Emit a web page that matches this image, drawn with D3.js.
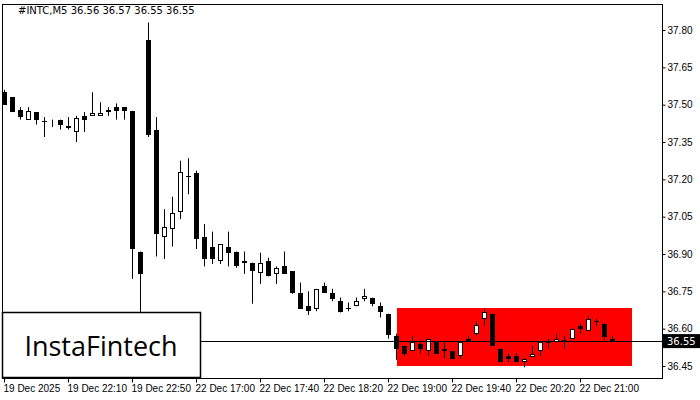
<!DOCTYPE html><html><head><meta charset="utf-8"><script src="https://cdn.jsdelivr.net/npm/d3@7"></script>
<style>body{margin:0;background:#fff}svg{font-family:Tahoma,"DejaVu Sans",sans-serif}</style></head><body><svg width="700" height="400"></svg>
<script>
const opens=[37.55,37.53,37.48,37.44,37.47,37.435,37.43,37.44,37.415,37.39,37.455,37.455,37.455,37.47,37.49,37.49,37.475,36.91,37.76,37.40,36.97,37.00,37.07,37.215,37.225,36.97,36.93,36.87,36.93,36.91,36.865,36.865,36.825,36.87,36.82,36.85,36.83,36.745,36.69,36.68,36.77,36.745,36.71,36.685,36.69,36.72,36.725,36.69,36.66,36.57,36.53,36.51,36.54,36.51,36.545,36.51,36.51,36.49,36.55,36.58,36.64,36.66,36.52,36.49,36.49,36.465,36.485,36.51,36.545,36.545,36.555,36.56,36.61,36.59,36.63,36.62,36.56];
const highs=[37.56,37.53,37.49,37.49,37.47,37.45,37.44,37.44,37.45,37.455,37.47,37.55,37.51,37.49,37.505,37.49,37.475,36.91,37.83,37.45,37.08,37.13,37.275,37.285,37.235,37.02,36.99,36.94,36.99,36.91,36.91,36.865,36.905,36.885,36.85,36.91,36.83,36.785,36.75,36.76,36.785,36.76,36.725,36.705,36.725,36.76,36.725,36.705,36.66,36.58,36.53,36.57,36.545,36.56,36.55,36.545,36.51,36.55,36.57,36.63,36.68,36.66,36.52,36.50,36.50,36.48,36.53,36.55,36.56,36.58,36.57,36.60,36.62,36.65,36.64,36.62,36.57];
const lows=[37.50,37.47,37.44,37.44,37.42,37.37,37.41,37.40,37.40,37.35,37.39,37.455,37.455,37.455,37.44,37.44,36.80,36.64,37.37,36.89,36.88,36.93,37.04,37.14,36.92,36.85,36.86,36.86,36.85,36.845,36.82,36.70,36.78,36.81,36.78,36.82,36.74,36.68,36.655,36.67,36.745,36.71,36.665,36.67,36.69,36.71,36.69,36.645,36.56,36.475,36.49,36.51,36.50,36.49,36.50,36.48,36.48,36.48,36.55,36.575,36.61,36.53,36.465,36.465,36.465,36.445,36.485,36.49,36.52,36.545,36.52,36.56,36.58,36.59,36.61,36.555,36.55];
const closes=[37.50,37.47,37.45,37.475,37.44,37.435,37.435,37.42,37.405,37.445,37.44,37.465,37.465,37.48,37.475,37.475,36.92,36.82,37.38,36.98,37.01,37.065,37.23,37.215,36.96,36.88,36.88,36.94,36.905,36.85,36.87,36.83,36.865,36.81,36.845,36.82,36.745,36.68,36.67,36.76,36.745,36.72,36.665,36.685,36.71,36.73,36.70,36.665,36.575,36.52,36.50,36.545,36.52,36.56,36.50,36.52,36.48,36.545,36.56,36.615,36.665,36.53,36.465,36.48,36.465,36.48,36.50,36.545,36.545,36.56,36.555,36.60,36.60,36.64,36.63,36.565,36.55];
const yTicks=[37.80,37.65,37.50,37.35,37.20,37.05,36.90,36.75,36.60,36.45];
const xTickIdx=[0,8,16,24,32,40,48,56,64,72];
const xTickLabels=["19 Dec 2025","19 Dec 22:10","19 Dec 22:50","22 Dec 17:00","22 Dec 17:40","22 Dec 18:20","22 Dec 19:00","22 Dec 19:40","22 Dec 20:20","22 Dec 21:00"];
const zone={from:49,to:78.5,top:36.683,bottom:36.45};
const last=36.55;

const svg=d3.select("svg");
const L=2,R=662,T=4,B=378;
const x=d3.scaleLinear().domain([0,1]).range([4,12]);
const y=d3.scaleLinear().domain([36.45,37.80]).range([366,30]);
svg.append("rect").attr("x",x(zone.from)+1).attr("width",x(zone.to)-x(zone.from)-1).attr("y",y(zone.top)).attr("height",y(zone.bottom)-y(zone.top)).attr("fill","#ff0000");
const g=svg.append("g").attr("clip-path","url(#c)");
svg.append("clipPath").attr("id","c").append("rect").attr("x",L).attr("y",T).attr("width",R-L).attr("height",B-T);
opens.forEach((o,i)=>{
  const c=closes[i],cx=Math.round(x(i))+0.5;
  g.append("line").attr("x1",cx).attr("x2",cx).attr("y1",y(highs[i])).attr("y2",y(lows[i])).attr("stroke","#000");
  const t=Math.round(y(Math.max(o,c))),b=Math.round(y(Math.min(o,c)));
  if(b-t<1){g.append("line").attr("x1",cx-2.5).attr("x2",cx+2.5).attr("y1",t+0.5).attr("y2",t+0.5).attr("stroke","#000");}
  else if(c<o) g.append("rect").attr("x",cx-2.5).attr("y",t).attr("width",5).attr("height",b-t).attr("fill","#000");
  else g.append("rect").attr("x",cx-2).attr("y",t+0.5).attr("width",4).attr("height",b-t-1).attr("fill","#fff").attr("stroke","#000");
});
svg.append("line").attr("x1",L).attr("x2",R).attr("y1",Math.round(y(last))+0.5).attr("y2",Math.round(y(last))+0.5).attr("stroke","#000");
svg.append("rect").attr("x",L+0.5).attr("y",T+0.5).attr("width",R-L).attr("height",B-T).attr("fill","none").attr("stroke","#000");
const ya=svg.append("g").attr("transform",`translate(${R+0.5},0)`).call(d3.axisRight(y).tickValues(yTicks).tickFormat(d3.format(".2f")).tickSize(3));
ya.select(".domain").remove();ya.selectAll("text").attr("font-size",10).attr("fill","#000").attr("x",5);
const xa=svg.append("g").attr("transform",`translate(0,${B+0.5})`).call(d3.axisBottom(x).tickValues(xTickIdx).tickFormat((d,i)=>xTickLabels[i]).tickSize(4));
xa.select(".domain").remove();xa.selectAll("text").attr("font-size",10).attr("fill","#000").attr("text-anchor","start").attr("x",-1).attr("y",6);
svg.append("rect").attr("x",R+1).attr("y",y(last)-7).attr("width",38).attr("height",14).attr("fill","#000");
svg.append("text").attr("x",R+5).attr("y",y(last)+4).attr("font-size",10).attr("fill","#fff").text(last.toFixed(2));
svg.append("text").attr("x",18).attr("y",14).attr("font-size",10).attr("fill","#000").text("#INTC,M5  36.56 36.57 36.55 36.55");
svg.append("rect").attr("x",2.5).attr("y",312.5).attr("width",198).attr("height",65).attr("fill","#fff").attr("stroke","#000").attr("stroke-width",1.5);
svg.append("text").attr("x",101).attr("y",356).attr("text-anchor","middle").attr("font-family","'Open Sans',sans-serif").attr("font-weight",500).attr("font-size",27).attr("fill","#000").text("InstaFintech");
</script></body></html>
